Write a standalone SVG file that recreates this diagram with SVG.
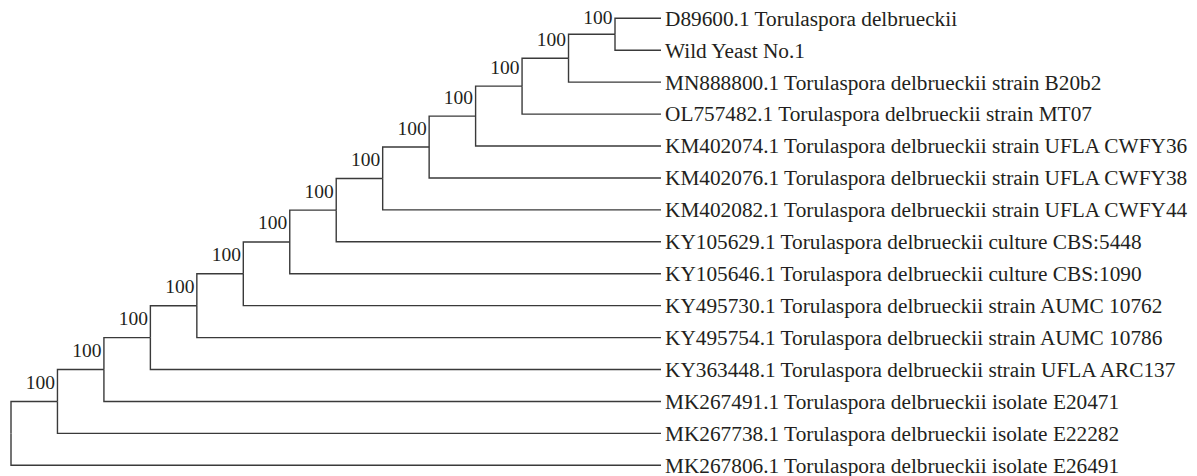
<svg xmlns="http://www.w3.org/2000/svg" width="1197" height="476" viewBox="0 0 1197 476">
<style>
.e{fill:none;stroke:#3a3a3a;stroke-width:1.4}
.lf{font-family:"Liberation Serif","Times New Roman",serif;font-size:21.3px;fill:#231f20}
.bs{font-family:"Liberation Serif","Times New Roman",serif;font-size:19.5px;fill:#231f20;text-anchor:end}
</style>
<rect width="1197" height="476" fill="#fff"/>
<g id="connectors">
<path class="e" d="M11 433.4V401.47H57.46"/>
<path class="e" d="M11 433.4V465.32H661"/>
<path class="e" d="M57.46 401.47V369.54H103.92"/>
<path class="e" d="M57.46 401.47V433.39H661"/>
<path class="e" d="M103.92 369.54V337.62H150.38"/>
<path class="e" d="M103.92 369.54V401.46H661"/>
<path class="e" d="M150.38 337.62V305.7H196.84"/>
<path class="e" d="M150.38 337.62V369.53H661"/>
<path class="e" d="M196.84 305.7V273.8H243.3"/>
<path class="e" d="M196.84 305.7V337.6H661"/>
<path class="e" d="M243.3 273.8V241.94H289.76"/>
<path class="e" d="M243.3 273.8V305.67H661"/>
<path class="e" d="M289.76 241.94V210.13H336.22"/>
<path class="e" d="M289.76 241.94V273.74H661"/>
<path class="e" d="M336.22 210.13V178.45H382.68"/>
<path class="e" d="M336.22 210.13V241.81H661"/>
<path class="e" d="M382.68 178.45V147.02H429.14"/>
<path class="e" d="M382.68 178.45V209.88H661"/>
<path class="e" d="M429.14 147.02V116.09H475.6"/>
<path class="e" d="M429.14 147.02V177.95H661"/>
<path class="e" d="M475.6 116.09V86.15H522.06"/>
<path class="e" d="M475.6 116.09V146.02H661"/>
<path class="e" d="M522.06 86.15V58.21H568.52"/>
<path class="e" d="M522.06 86.15V114.09H661"/>
<path class="e" d="M568.52 58.21V34.27H615"/>
<path class="e" d="M568.52 58.21V82.16H661"/>
<path class="e" d="M615 34.27V18.3H661"/>
<path class="e" d="M615 34.27V50.23H661"/>
</g>
<g id="root"/>
<g id="n1"><text class="bs" x="55" y="389">100</text></g>
<g id="n2"><text class="bs" x="101.5" y="357">100</text></g>
<g id="n3"><text class="bs" x="148" y="325.1">100</text></g>
<g id="n4"><text class="bs" x="194.4" y="293.2">100</text></g>
<g id="n5"><text class="bs" x="240.9" y="261.3">100</text></g>
<g id="n6"><text class="bs" x="287.3" y="229.4">100</text></g>
<g id="n7"><text class="bs" x="333.8" y="197.6">100</text></g>
<g id="n8"><text class="bs" x="380.2" y="165.9">100</text></g>
<g id="n9"><text class="bs" x="426.7" y="134.5">100</text></g>
<g id="n10"><text class="bs" x="473.1" y="103.6">100</text></g>
<g id="n11"><text class="bs" x="519.6" y="73.7">100</text></g>
<g id="n12"><text class="bs" x="566" y="45.7">100</text></g>
<g id="n13"><text class="bs" x="612.5" y="23.5">100</text></g>
<g id="leaf1"><text class="lf" x="665" y="25.6">D89600.1 Torulaspora delbrueckii</text></g>
<g id="leaf2"><text class="lf" x="665" y="57.5">Wild Yeast No.1</text></g>
<g id="leaf3"><text class="lf" x="665" y="89.5">MN888800.1 Torulaspora delbrueckii strain B20b2</text></g>
<g id="leaf4"><text class="lf" x="665" y="121.4">OL757482.1 Torulaspora delbrueckii strain MT07</text></g>
<g id="leaf5"><text class="lf" x="665" y="153.3">KM402074.1 Torulaspora delbrueckii strain UFLA CWFY36</text></g>
<g id="leaf6"><text class="lf" x="665" y="185.3">KM402076.1 Torulaspora delbrueckii strain UFLA CWFY38</text></g>
<g id="leaf7"><text class="lf" x="665" y="217.2">KM402082.1 Torulaspora delbrueckii strain UFLA CWFY44</text></g>
<g id="leaf8"><text class="lf" x="665" y="249.1">KY105629.1 Torulaspora delbrueckii culture CBS:5448</text></g>
<g id="leaf9"><text class="lf" x="665" y="281">KY105646.1 Torulaspora delbrueckii culture CBS:1090</text></g>
<g id="leaf10"><text class="lf" x="665" y="313">KY495730.1 Torulaspora delbrueckii strain AUMC 10762</text></g>
<g id="leaf11"><text class="lf" x="665" y="344.9">KY495754.1 Torulaspora delbrueckii strain AUMC 10786</text></g>
<g id="leaf12"><text class="lf" x="665" y="376.8">KY363448.1 Torulaspora delbrueckii strain UFLA ARC137</text></g>
<g id="leaf13"><text class="lf" x="665" y="408.8">MK267491.1 Torulaspora delbrueckii isolate E20471</text></g>
<g id="leaf14"><text class="lf" x="665" y="440.7">MK267738.1 Torulaspora delbrueckii isolate E22282</text></g>
<g id="leaf15"><text class="lf" x="665" y="472.6">MK267806.1 Torulaspora delbrueckii isolate E26491</text></g>
</svg>
